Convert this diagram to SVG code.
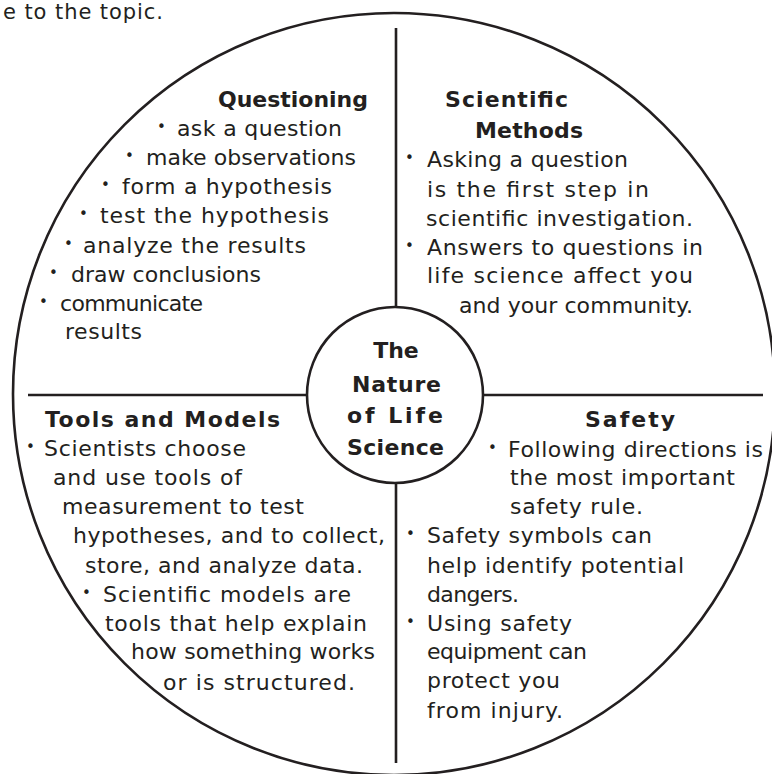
<svg xmlns="http://www.w3.org/2000/svg" width="772" height="774" viewBox="0 0 772 774">
<style>
.t{font-family:"DejaVu Sans","Liberation Sans",sans-serif;font-size:22px;fill:#231f20}
.h{font-family:"DejaVu Sans","Liberation Sans",sans-serif;font-size:22px;font-weight:bold;fill:#231f20}
.b{font-family:"DejaVu Sans","Liberation Sans",sans-serif;font-size:15px;fill:#231f20}
.ln{stroke:#231f20;stroke-width:2.6;fill:none}
.cap{font-family:"DejaVu Sans","Open Sans",sans-serif;font-size:21px;fill:#231f20}
</style>
<rect width="772" height="774" fill="#ffffff"/>
<text class="cap" x="3" y="19" textLength="160">e to the topic.</text>
<g id="outline">
<circle class="ln" cx="394" cy="394" r="381"/>
</g>
<g id="connectors">
<line class="ln" x1="396" y1="28" x2="396" y2="307"/>
<line class="ln" x1="396" y1="483" x2="396" y2="763"/>
<line class="ln" x1="28" y1="395" x2="307" y2="395"/>
<line class="ln" x1="483" y1="395" x2="763" y2="395"/>
</g>
<g id="center">
<circle class="ln" cx="395" cy="395" r="88" fill="#ffffff"/>
<text class="h" x="396" y="358" text-anchor="middle">The</text>
<text class="h" x="352" y="392" textLength="89">Nature</text>
<text class="h" x="347" y="423" textLength="96">of  Life</text>
<text class="h" x="347" y="455" textLength="97">Science</text>
</g>
<g id="questioning">
<text class="h" x="218" y="107" textLength="150">Questioning</text>
<text class="b" x="157" y="132">•</text><text class="t" x="177" y="136" textLength="165">ask a question</text>
<text class="b" x="125" y="161">•</text><text class="t" x="146" y="165" textLength="210">make observations</text>
<text class="b" x="101" y="190">•</text><text class="t" x="122" y="194" textLength="210">form a hypothesis</text>
<text class="b" x="79" y="219">•</text><text class="t" x="100" y="223" textLength="229">test the hypothesis</text>
<text class="b" x="64" y="249">•</text><text class="t" x="83" y="253" textLength="223">analyze the results</text>
<text class="b" x="49" y="278">•</text><text class="t" x="71" y="282" textLength="190">draw conclusions</text>
<text class="b" x="39" y="307">•</text><text class="t" x="60" y="311" textLength="143">communicate</text>
<text class="t" x="65" y="339" textLength="77">results</text>
</g>
<g id="methods">
<text class="h" x="445" y="107" textLength="123">Scientific</text>
<text class="h" x="475" y="138" textLength="108">Methods</text>
<text class="b" x="405" y="163">•</text><text class="t" x="427" y="167" textLength="201">Asking a question</text>
<text class="t" x="427" y="197" textLength="222">is the first step in</text>
<text class="t" x="426" y="226" textLength="267">scientific investigation.</text>
<text class="b" x="405" y="251">•</text><text class="t" x="427" y="255" textLength="276">Answers to questions in</text>
<text class="t" x="427" y="283" textLength="266">life science affect you</text>
<text class="t" x="459" y="313" textLength="234">and your community.</text>
</g>
<g id="tools">
<text class="h" x="45" y="427" textLength="235">Tools  and  Models</text>
<text class="b" x="26" y="452">•</text><text class="t" x="44" y="456" textLength="202">Scientists choose</text>
<text class="t" x="53" y="485" textLength="189">and use tools of</text>
<text class="t" x="62" y="514" textLength="242">measurement to test</text>
<text class="t" x="73" y="543" textLength="312">hypotheses, and to collect,</text>
<text class="t" x="85" y="573" textLength="278">store, and analyze data.</text>
<text class="b" x="82" y="598">•</text><text class="t" x="103" y="602" textLength="248">Scientific models are</text>
<text class="t" x="105" y="631" textLength="262">tools that help explain</text>
<text class="t" x="131" y="659" textLength="244">how something works</text>
<text class="t" x="163" y="690" textLength="192">or is structured.</text>
</g>
<g id="safety">
<text class="h" x="585" y="427" textLength="90">Safety</text>
<text class="b" x="488" y="453">•</text><text class="t" x="508" y="457" textLength="255">Following directions is</text>
<text class="t" x="510" y="485" textLength="225">the most important</text>
<text class="t" x="510" y="514" textLength="133">safety rule.</text>
<text class="b" x="406" y="539">•</text><text class="t" x="427" y="543" textLength="225">Safety symbols can</text>
<text class="t" x="427" y="573" textLength="257">help identify potential</text>
<text class="t" x="427" y="602" textLength="92">dangers.</text>
<text class="b" x="406" y="627">•</text><text class="t" x="427" y="631" textLength="145">Using safety</text>
<text class="t" x="427" y="659" textLength="160">equipment can</text>
<text class="t" x="427" y="688" textLength="133">protect you</text>
<text class="t" x="427" y="718" textLength="136">from injury.</text>
</g>
</svg>
